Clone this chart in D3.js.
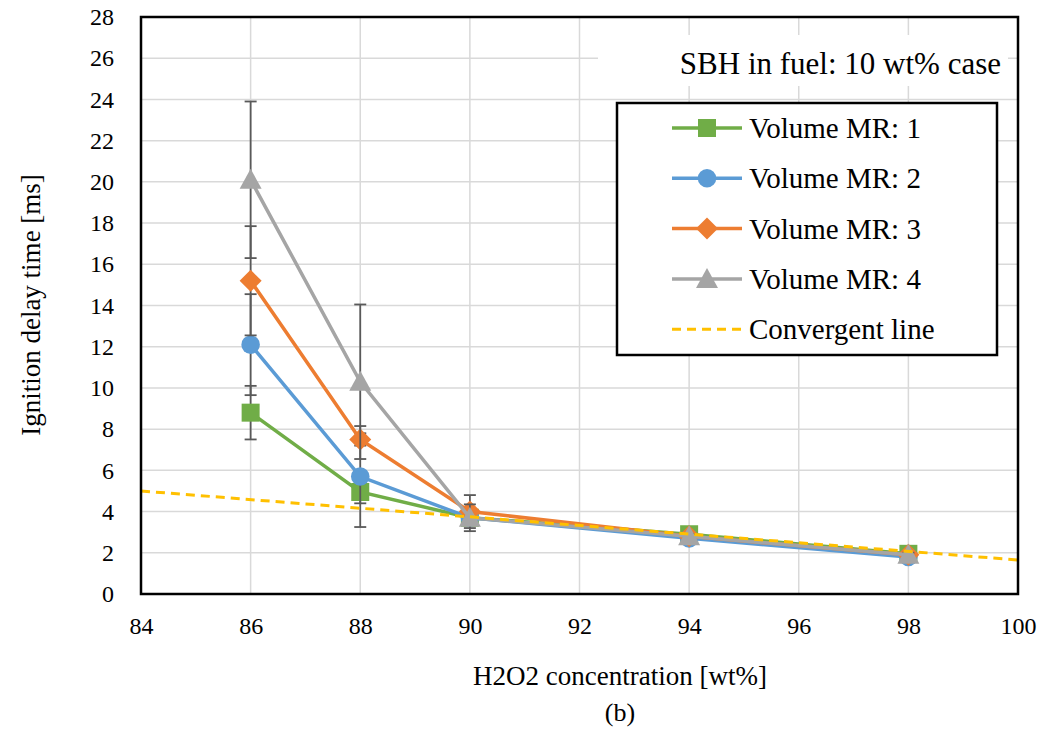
<!DOCTYPE html>
<html lang="en">
<head>
<meta charset="UTF-8">
<title>Ignition delay time</title>
<script src="https://d3js.org/d3.v7.min.js"></script>
<style>
  body { margin: 0; background: #fff; }
  svg text { font-family: "Liberation Serif", "Noto Serif", "DejaVu Serif", "Times New Roman", serif; fill: #000; }
</style>
</head>
<body>
<svg id="chart" width="1049" height="730"></svg>
<script>
const conc = [86, 88, 90, 94, 98];
const seriesNames = ["Volume MR: 1", "Volume MR: 2", "Volume MR: 3", "Volume MR: 4"];
const mr1 = [8.8, 4.95, 3.7, 2.9, 1.95];
const mr2 = [12.1, 5.7, 3.7, 2.7, 1.8];
const mr3 = [15.2, 7.5, 4.0, 2.8, 1.9];
const mr4 = [20.1, 10.3, 3.7, 2.8, 1.9];
const err1 = [1.3, 0.55, 0.3, 0.1, 0.1];
const err2 = [2.45, 2.45, 0.3, 0.1, 0.1];
const err3 = [2.65, 0.3, 0.8, 0.1, 0.1];
const err4 = [3.8, 3.75, 0.65, 0.1, 0.1];
const convX = [84, 100];
const convY = [5.0, 1.65];
const xTicks = [84, 86, 88, 90, 92, 94, 96, 98, 100];
const yTicks = [0, 2, 4, 6, 8, 10, 12, 14, 16, 18, 20, 22, 24, 26, 28];

const colors = ["#70AD47", "#5B9BD5", "#ED7D31", "#A5A5A5"];
const values = [mr1, mr2, mr3, mr4];
const errors = [err1, err2, err3, err4];

// marker shapes centred on 0,0
function marker(s) {
  if (s === 0) return "M-9,-9H9V9H-9Z";
  if (s === 1) return d3.symbol().type(d3.symbolCircle).size(270)();
  if (s === 2) return "M0,-11L11,0L0,11L-11,0Z";
  return "M0,-11L11,9H-11Z";
}

const svg = d3.select("#chart");
const x = d3.scaleLinear().domain([84, 100]).range([141, 1018]);
const y = d3.scaleLinear().domain([0, 28]).range([594, 17]);

// gridlines
svg.append("g").selectAll("line").data(yTicks.slice(1)).join("line")
  .attr("x1", x(84)).attr("x2", x(100))
  .attr("y1", d => y(d)).attr("y2", d => y(d))
  .attr("stroke", "#D9D9D9").attr("stroke-width", 1.5);
svg.append("g").selectAll("line").data(xTicks.slice(1, -1)).join("line")
  .attr("x1", d => x(d)).attr("x2", d => x(d))
  .attr("y1", y(0)).attr("y2", y(28))
  .attr("stroke", "#D9D9D9").attr("stroke-width", 1.5);

// tick labels
const yAxis = svg.append("g")
  .attr("transform", `translate(${x(84)},0)`)
  .call(d3.axisLeft(y).tickValues(yTicks).tickSize(0).tickPadding(27));
yAxis.select(".domain").remove();
yAxis.attr("font-family", null).selectAll("text").style("font-size", "24px");

const xAxis = svg.append("g")
  .attr("transform", `translate(0,${y(0)})`)
  .call(d3.axisBottom(x).tickValues(xTicks).tickSize(0).tickPadding(23));
xAxis.select(".domain").remove();
xAxis.attr("font-family", null).selectAll("text").style("font-size", "24px");

const lineGen = d3.line().x((d, i) => x(conc[i])).y(d => y(d));

values.forEach((vals, s) => {
  const g = svg.append("g");
  // error bars
  g.selectAll("line.err").data(vals).join("line")
    .attr("x1", (d, i) => x(conc[i])).attr("x2", (d, i) => x(conc[i]))
    .attr("y1", (d, i) => y(d + errors[s][i])).attr("y2", (d, i) => y(d - errors[s][i]))
    .attr("stroke", "#595959").attr("stroke-width", 1.8);
  g.selectAll("line.capT").data(vals).join("line")
    .attr("x1", (d, i) => x(conc[i]) - 6).attr("x2", (d, i) => x(conc[i]) + 6)
    .attr("y1", (d, i) => y(d + errors[s][i])).attr("y2", (d, i) => y(d + errors[s][i]))
    .attr("stroke", "#595959").attr("stroke-width", 1.8);
  g.selectAll("line.capB").data(vals).join("line")
    .attr("x1", (d, i) => x(conc[i]) - 6).attr("x2", (d, i) => x(conc[i]) + 6)
    .attr("y1", (d, i) => y(d - errors[s][i])).attr("y2", (d, i) => y(d - errors[s][i]))
    .attr("stroke", "#595959").attr("stroke-width", 1.8);
  g.append("path").datum(vals)
    .attr("d", lineGen)
    .attr("fill", "none").attr("stroke", colors[s]).attr("stroke-width", 3.5);
  g.selectAll("path.mk").data(vals).join("path")
    .attr("transform", (d, i) => `translate(${x(conc[i])},${y(d)})`)
    .attr("d", marker(s))
    .attr("fill", colors[s]);
});

// convergent line
svg.append("path").datum(convY)
  .attr("d", d3.line().x((d, i) => x(convX[i])).y(d => y(d)))
  .attr("fill", "none").attr("stroke", "#FFC000").attr("stroke-width", 3)
  .attr("stroke-dasharray", "9,6");

// plot frame
svg.append("rect")
  .attr("x", x(84)).attr("y", y(28))
  .attr("width", x(100) - x(84)).attr("height", y(0) - y(28))
  .attr("fill", "none").attr("stroke", "#000").attr("stroke-width", 2.5);

// annotation
svg.append("rect").attr("x", 598).attr("y", 35).attr("width", 410).attr("height", 51).attr("fill", "#fff");
svg.append("text").attr("x", 1001).attr("y", 74).attr("text-anchor", "end")
  .style("font-size", "31px").text("SBH in fuel: 10 wt% case");

// legend
const lg = svg.append("g");
lg.append("rect").attr("x", 617).attr("y", 103).attr("width", 380).attr("height", 252)
  .attr("fill", "#fff").attr("stroke", "#000").attr("stroke-width", 2.5);
const legendNames = seriesNames.concat(["Convergent line"]);
legendNames.forEach((name, i) => {
  const cy = 128 + i * 50.3;
  if (i < 4) {
    lg.append("line").attr("x1", 672).attr("x2", 742).attr("y1", cy).attr("y2", cy)
      .attr("stroke", colors[i]).attr("stroke-width", 3.5);
    lg.append("path").attr("transform", `translate(707,${cy})`)
      .attr("d", marker(i))
      .attr("fill", colors[i]);
  } else {
    lg.append("line").attr("x1", 672).attr("x2", 742).attr("y1", cy).attr("y2", cy)
      .attr("stroke", "#FFC000").attr("stroke-width", 3).attr("stroke-dasharray", "9,6");
  }
  lg.append("text").attr("x", 749).attr("y", cy + 10)
    .style("font-size", "29px").text(name);
});

// axis titles
svg.append("text").attr("transform", "translate(40,305) rotate(-90)")
  .attr("text-anchor", "middle").style("font-size", "27px").text("Ignition delay time [ms]");
svg.append("text").attr("x", 620).attr("y", 685).attr("text-anchor", "middle")
  .style("font-size", "27px").text("H2O2 concentration [wt%]");
svg.append("text").attr("x", 620).attr("y", 721).attr("text-anchor", "middle")
  .style("font-size", "26px").text("(b)");
</script>
</body>
</html>
